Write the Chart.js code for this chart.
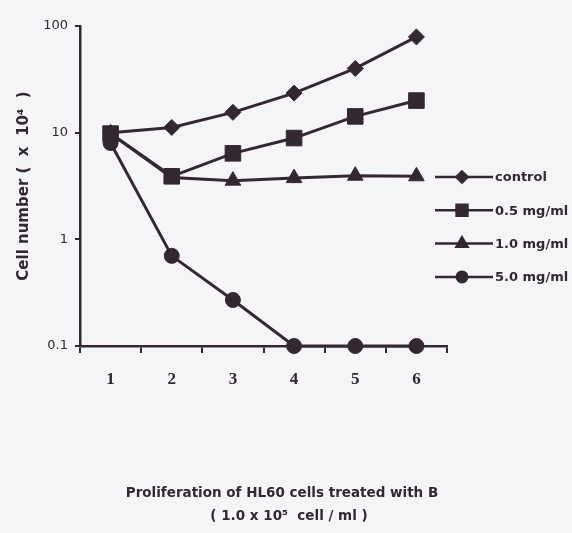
<!DOCTYPE html>
<html>
<head>
<meta charset="utf-8">
<script src="https://cdn.jsdelivr.net/npm/chart.js@4/dist/chart.umd.min.js"></script>
<style>
  html, body { margin: 0; padding: 0; background: #f5f4f6; }
  #wrap { width: 572px; height: 533px; }
</style>
</head>
<body>
<div id="wrap"><canvas id="prolifChart" width="572" height="533"></canvas></div>
<script>
// values (cell number x 10^4, log axis)
const days = ['1', '2', '3', '4', '5', '6'];
const control = [10, 11.2, 15.5, 23.5, 40, 79];
const dose05 = [9.8, 3.9, 6.4, 8.9, 14.2, 20];
const dose10 = [9.8, 3.8, 3.55, 3.75, 3.95, 3.9];
const dose50 = [8, 0.7, 0.27, 0.1, 0.1, 0.1];
const seriesNames = ['control', '0.5 mg/ml', '1.0 mg/ml', '5.0 mg/ml'];
const yTicks = [0.1, 1, 10, 100];
const captionLines = ['Proliferation of HL60 cells treated with B', '( 1.0 x 10\u2075  cell / ml )'];

const ink = '#33282f';
const dejavu = "'DejaVu Sans', Verdana, sans-serif";

function series(label, data, style, radius, order) {
    return {
        label: label,
        data: data,
        borderColor: ink,
        backgroundColor: ink,
        borderWidth: 3,
        pointStyle: style,
        pointRadius: radius,
        pointBorderWidth: 1,
        pointBackgroundColor: ink,
        pointBorderColor: ink,
        tension: 0,
        clip: false,
        order: order
    };
}

// legend drawn as "—marker—text", like the original figure, plus the caption
const lineLegend = {
    id: 'lineLegend',
    afterDraw(chart) {
        const c = chart.ctx;
        const area = chart.chartArea;
        const x0 = area.right - 12, x1 = area.right + 46;
        c.save();
        c.strokeStyle = ink;
        c.fillStyle = ink;
        c.font = 'bold 13px ' + dejavu;
        c.textBaseline = 'middle';
        chart.data.datasets.forEach((ds, i) => {
            const y = area.top + 151 + i * 33.3;
            c.lineWidth = 2.5;
            c.beginPath();
            c.moveTo(x0, y);
            c.lineTo(x1, y);
            c.stroke();
            Chart.helpers.drawPoint(c, {
                pointStyle: ds.pointStyle,
                radius: ds.pointRadius * 0.7,
                borderWidth: 1
            }, (x0 + x1) / 2 - 2, y);
            c.fillText(ds.label, x1 + 2, y + 1);
        });

        c.font = 'bold 13.5px ' + dejavu;
        c.textAlign = 'center';
        c.fillText(captionLines[0], 282, area.bottom + 147);
        c.fillText(captionLines[1], 289, area.bottom + 170);
        c.restore();
    }
};

const ctx = document.getElementById('prolifChart').getContext('2d');
new Chart(ctx, {
    type: 'line',
    data: {
        labels: days,
        datasets: [
            series(seriesNames[0], control, 'rectRot', 8, 2),
            series(seriesNames[1], dose05, 'rect', 11, 1),
            series(seriesNames[2], dose10, 'triangle', 9, 3),
            series(seriesNames[3], dose50, 'circle', 7.5, 4)
        ]
    },
    options: {
        responsive: false,
        animation: false,
        layout: { padding: { top: 26, right: 125, left: 0, bottom: 0 } },
        plugins: {
            legend: { display: false },
            tooltip: { enabled: false }
        },
        scales: {
            x: {
                type: 'category',
                offset: true,
                grid: { offset: true, drawOnChartArea: false, drawTicks: true, tickLength: 7, color: ink, lineWidth: 2 },
                border: { color: ink, width: 2.5 },
                ticks: { color: ink, padding: 16, font: { family: "'Liberation Serif', serif", size: 17, weight: 'bold' } },
                afterFit: s => { s.height = 187; }
            },
            y: {
                type: 'logarithmic',
                min: 0.1,
                max: 100,
                afterBuildTicks: s => { s.ticks = yTicks.map(v => ({ value: v })); },
                grid: { drawOnChartArea: false, drawTicks: true, tickLength: 5, color: ink, lineWidth: 2 },
                border: { color: ink, width: 2.5 },
                ticks: { color: ink, padding: 7, font: { family: dejavu, size: 13 }, callback: v => String(v) },
                title: {
                    display: true,
                    text: 'Cell number (  x  10\u2074  )',
                    color: ink,
                    font: { family: dejavu, size: 15, weight: 'bold' },
                    padding: { top: 15, bottom: 0 }
                },
                afterFit: s => { s.width = 80; }
            }
        }
    },
    plugins: [lineLegend]
});
</script>
</body>
</html>
